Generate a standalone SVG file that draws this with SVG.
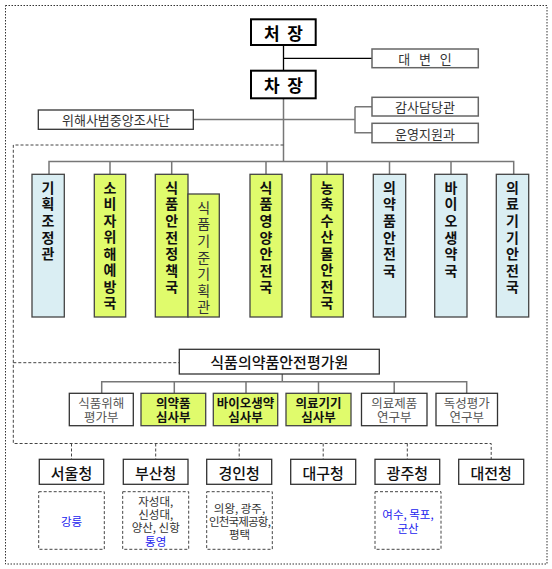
<svg xmlns="http://www.w3.org/2000/svg" width="552" height="569" viewBox="0 0 552 569">
<style>
text{font-family:"Noto Sans CJK KR","Noto Sans",sans-serif;text-anchor:middle;dominant-baseline:central}
.big{font-size:17px;font-weight:bold;fill:#000}
.side{font-size:13px;fill:#333}
.v{font-size:14px;font-weight:bold;fill:#111}
.vn{font-size:14px;fill:#333}
.hbox{fill:#fff;stroke:#000;stroke-width:2}
.gbox{fill:#fff;stroke:#666;stroke-width:1.5}
.blue{fill:#DAEEF3;stroke:#444;stroke-width:1.3}
.lime{fill:#E0FB6C;stroke:#444;stroke-width:1.3}
.wbox{fill:#fff;stroke:#333;stroke-width:1.3}
.sub{font-size:12.5px;fill:#555}
.subb{font-size:12.5px;font-weight:bold;fill:#111}
.reg{font-size:15px;fill:#111;font-weight:500}
.note{font-size:11.5px;fill:#333}
.nb{font-size:11.5px;fill:#2222ee}
.dash{fill:none;stroke:#444;stroke-width:1;stroke-dasharray:3 2}
.ln{fill:none;stroke:#777;stroke-width:1.5}
.lk{fill:none;stroke:#000;stroke-width:1.3}
</style>
<rect x="5.5" y="5.5" width="541.5" height="558.5" fill="none" stroke="#333" stroke-width="1" stroke-dasharray="1.5 1.5"/>
<g id="connectors">
<path class="lk" d="M283.5 45V71M283.5 58.3H372"/>
<path class="ln" d="M283.5 98.3V161.5M193.3 119.5H355M355 106.7H372M355 106.7V132.7H372"/>
<path class="ln" d="M49 174.3V161.5H513.7V174.3M110 161.5V174.3M171.7 161.5V174.3M266 161.5V174.3M327 161.5V174.3M389.5 161.5V174.3M451 161.5V174.3"/>
<path class="ln" d="M282.3 374V381.7M101.7 393.3V381.7H466.7V393.3M174.3 381.7V393.3M246 381.7V393.3M318.5 381.7V393.3M394.2 381.7V393.3"/>
<path class="dash" d="M283.5 145H13.3V443.5H491.2V459.3M13.3 362.7H179.3M71.5 443.5V459.3M155.7 443.5V459.3M239.2 443.5V459.3M323.2 443.5V459.3M407.3 443.5V459.3"/>
</g>
<g id="n-chief"><rect class="hbox" x="251" y="19.3" width="64.7" height="25.7"/><text class="big" x="283.5" y="32.5" xml:space="preserve">처  장</text></g>
<g id="n-spokes"><rect class="gbox" x="372" y="49" width="106.3" height="18.7"/><text class="side" x="425" y="58.5" xml:space="preserve">대   변   인</text></g>
<g id="n-vice"><rect class="hbox" x="251" y="70.7" width="64.7" height="27.6"/><text class="big" x="283.5" y="84.5" xml:space="preserve">차  장</text></g>
<g id="n-audit"><rect class="gbox" x="372" y="97.3" width="106.3" height="18.7"/><text class="side" x="425" y="106.8">감사담당관</text></g>
<g id="n-ops"><rect class="gbox" x="372" y="123.3" width="106.3" height="19.4"/><text class="side" x="425" y="133.2">운영지원과</text></g>
<g id="n-inv"><rect class="wbox" x="38.3" y="110" width="155" height="19.3"/><text class="side" x="115.8" y="119.8">위해사범중앙조사단</text></g>

<g id="n-plan"><rect class="blue" x="32" y="174.3" width="32.3" height="142.7"/>
<text class="v" x="48" y="186.7"><tspan x="48">기</tspan><tspan x="48" dy="16.6">획</tspan><tspan x="48" dy="16.6">조</tspan><tspan x="48" dy="16.6">정</tspan><tspan x="48" dy="16.6">관</tspan></text></g>
<g id="n-consumer"><rect class="lime" x="94.3" y="174.3" width="31.4" height="142.7"/>
<text class="v" x="110" y="186.7"><tspan x="110">소</tspan><tspan x="110" dy="16.5">비</tspan><tspan x="110" dy="16.5">자</tspan><tspan x="110" dy="16.5">위</tspan><tspan x="110" dy="16.5">해</tspan><tspan x="110" dy="16.5">예</tspan><tspan x="110" dy="16.5">방</tspan><tspan x="110" dy="16.5">국</tspan></text></g>
<g id="n-foodpol"><rect class="lime" x="155.3" y="174.3" width="32.7" height="142.7"/>
<text class="v" x="171.7" y="186.7"><tspan x="171.7">식</tspan><tspan x="171.7" dy="16.6">품</tspan><tspan x="171.7" dy="16.6">안</tspan><tspan x="171.7" dy="16.6">전</tspan><tspan x="171.7" dy="16.6">정</tspan><tspan x="171.7" dy="16.6">책</tspan><tspan x="171.7" dy="16.6">국</tspan></text></g>
<g id="n-foodstd"><rect class="lime" x="188" y="194" width="31.3" height="123"/>
<text class="vn" x="203.7" y="206.7"><tspan x="203.7">식</tspan><tspan x="203.7" dy="16.6">품</tspan><tspan x="203.7" dy="16.6">기</tspan><tspan x="203.7" dy="16.6">준</tspan><tspan x="203.7" dy="16.6">기</tspan><tspan x="203.7" dy="16.6">획</tspan><tspan x="203.7" dy="16.6">관</tspan></text></g>
<g id="n-foodnut"><rect class="lime" x="250" y="174.3" width="32" height="142.7"/>
<text class="v" x="266" y="186.7"><tspan x="266">식</tspan><tspan x="266" dy="16.6">품</tspan><tspan x="266" dy="16.6">영</tspan><tspan x="266" dy="16.6">양</tspan><tspan x="266" dy="16.6">안</tspan><tspan x="266" dy="16.6">전</tspan><tspan x="266" dy="16.6">국</tspan></text></g>
<g id="n-agri"><rect class="lime" x="311" y="174.3" width="32.3" height="142.7"/>
<text class="v" x="327" y="186.7"><tspan x="327">농</tspan><tspan x="327" dy="16.5">축</tspan><tspan x="327" dy="16.5">수</tspan><tspan x="327" dy="16.5">산</tspan><tspan x="327" dy="16.5">물</tspan><tspan x="327" dy="16.5">안</tspan><tspan x="327" dy="16.5">전</tspan><tspan x="327" dy="16.5">국</tspan></text></g>
<g id="n-drug"><rect class="blue" x="373.3" y="174.3" width="32.4" height="142.7"/>
<text class="v" x="389.5" y="186.7"><tspan x="389.5">의</tspan><tspan x="389.5" dy="16.6">약</tspan><tspan x="389.5" dy="16.6">품</tspan><tspan x="389.5" dy="16.6">안</tspan><tspan x="389.5" dy="16.6">전</tspan><tspan x="389.5" dy="16.6">국</tspan></text></g>
<g id="n-bio"><rect class="blue" x="434.7" y="174.3" width="32.3" height="142.7"/>
<text class="v" x="451" y="186.7"><tspan x="451">바</tspan><tspan x="451" dy="16.6">이</tspan><tspan x="451" dy="16.6">오</tspan><tspan x="451" dy="16.6">생</tspan><tspan x="451" dy="16.6">약</tspan><tspan x="451" dy="16.6">국</tspan></text></g>
<g id="n-device"><rect class="blue" x="496.3" y="174.3" width="32.4" height="142.7"/>
<text class="v" x="512.5" y="186.7"><tspan x="512.5">의</tspan><tspan x="512.5" dy="16.6">료</tspan><tspan x="512.5" dy="16.6">기</tspan><tspan x="512.5" dy="16.6">기</tspan><tspan x="512.5" dy="16.6">안</tspan><tspan x="512.5" dy="16.6">전</tspan><tspan x="512.5" dy="16.6">국</tspan></text></g>

<g id="n-eval"><rect class="wbox" x="179.3" y="349.3" width="200" height="24.7"/><text x="279.3" y="361.7" style="font-size:15px;fill:#111;font-weight:500">식품의약품안전평가원</text></g>
<g id="n-e1"><rect class="wbox" x="69.3" y="393.3" width="64" height="32.4"/><text class="sub" x="101.3" y="402.7">식품위해</text><text class="sub" x="101.3" y="416.3">평가부</text></g>
<g id="n-e2"><rect class="lime" x="141" y="393.3" width="64.7" height="32.4"/><text class="subb" x="173.3" y="402.7">의약품</text><text class="subb" x="173.3" y="416.3">심사부</text></g>
<g id="n-e3"><rect class="lime" x="213.3" y="393.3" width="64.4" height="32.4"/><text class="subb" x="245.5" y="402.7">바이오생약</text><text class="subb" x="245.5" y="416.3">심사부</text></g>
<g id="n-e4"><rect class="lime" x="286" y="393.3" width="65" height="32.4"/><text class="subb" x="318.5" y="402.7">의료기기</text><text class="subb" x="318.5" y="416.3">심사부</text></g>
<g id="n-e5"><rect class="wbox" x="361.5" y="393.3" width="65.5" height="32.4"/><text class="sub" x="394.2" y="402.7">의료제품</text><text class="sub" x="394.2" y="416.3">연구부</text></g>
<g id="n-e6"><rect class="wbox" x="436" y="393.3" width="61.5" height="32.4"/><text class="sub" x="466.7" y="402.7">독성평가</text><text class="sub" x="466.7" y="416.3">연구부</text></g>

<g id="n-seoul"><rect class="wbox" x="39.3" y="459.3" width="64.4" height="25"/><text class="reg" x="71.5" y="472">서울청</text>
<rect class="dash" x="38.7" y="491.7" width="65.6" height="57.6"/><text class="nb" x="71.5" y="521">강릉</text></g>
<g id="n-busan"><rect class="wbox" x="123.3" y="459.3" width="64.7" height="25"/><text class="reg" x="155.7" y="472">부산청</text>
<rect class="dash" x="122.7" y="491.7" width="66" height="57.6"/><text class="note" x="155.7" y="500.7">자성대,</text><text class="note" x="155.7" y="514">신성대,</text><text class="note" x="155.7" y="527.3">양산, 신항</text><text class="nb" x="155.7" y="540.7">통영</text></g>
<g id="n-gyeongin"><rect class="wbox" x="206.7" y="459.3" width="65" height="25"/><text class="reg" x="239.2" y="472">경인청</text>
<rect class="dash" x="206.7" y="491.7" width="65.6" height="57.6"/><text class="note" x="239.5" y="508.3">의왕, 광주,</text><text class="note" x="239.5" y="521" style="letter-spacing:-0.8px">인천국제공항,</text><text class="note" x="239.5" y="534">평택</text></g>
<g id="n-daegu"><rect class="wbox" x="290.7" y="459.3" width="65" height="25"/><text class="reg" x="323.2" y="472">대구청</text></g>
<g id="n-gwangju"><rect class="wbox" x="375" y="459.3" width="64.7" height="25"/><text class="reg" x="407.3" y="472">광주청</text>
<rect class="dash" x="375" y="491.7" width="66" height="57.6"/><text class="nb" x="408" y="514">여수, 목포,</text><text class="nb" x="408" y="527.7">군산</text></g>
<g id="n-daejeon"><rect class="wbox" x="458.7" y="459.3" width="65" height="25"/><text class="reg" x="491.2" y="472">대전청</text></g>
</svg>
